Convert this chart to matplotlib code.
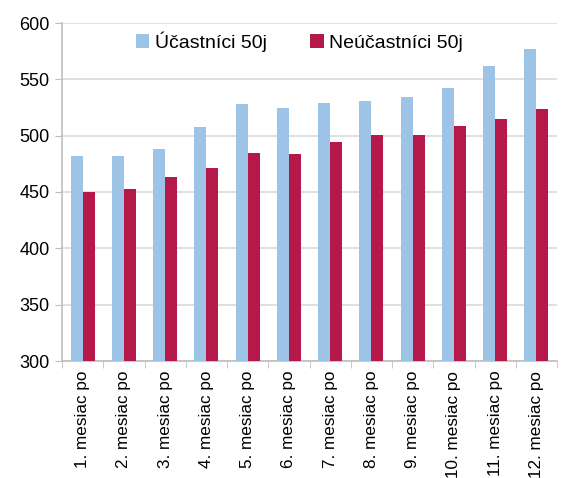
import matplotlib.pyplot as plt
import numpy as np

plt.rcParams['font.family'] = ['Liberation Sans', 'DejaVu Sans']

categories = [f"{i}. mesiac po" for i in range(1, 13)]
ucastnici = [482, 482, 488, 508, 528, 525, 529, 531, 534, 542, 562, 577]
neucastnici = [450, 453, 463, 471, 485, 484, 494, 501, 501, 509, 515, 524]

fig = plt.figure(figsize=(5.65, 4.78), dpi=100)
ax = fig.add_axes([62 / 565, 1 - 361 / 478, (557 - 62) / 565, (361 - 23) / 478])

x = np.arange(len(categories))
w = 0.29
ax.bar(x - w / 2, ucastnici, w, color='#9DC3E6', label='Účastníci 50j', zorder=3)
ax.bar(x + w / 2, neucastnici, w, color='#B5194A', label='Neúčastníci 50j', zorder=3)

ax.set_ylim(300, 600)
ax.set_xlim(-0.5, len(categories) - 0.5)
ax.set_yticks(range(300, 601, 50))
ax.yaxis.grid(True, color='#D9D9D9', linewidth=1.2, zorder=0)
ax.tick_params(axis='y', labelsize=13, length=5, color='#BFBFBF', pad=4)

ax.set_xticks(x)
ax.set_xticklabels(categories, rotation=90, fontsize=12.3)
ax.tick_params(axis='x', length=0, pad=7)
ax.set_xticks(np.arange(-0.5, len(categories)), minor=True)
ax.tick_params(axis='x', which='minor', length=5, color='#BFBFBF')

for s in ['top', 'right']:
    ax.spines[s].set_visible(False)
for s in ['left', 'bottom']:
    ax.spines[s].set_color('#BFBFBF')
    ax.spines[s].set_linewidth(1.2)

ax.legend(loc='upper center', bbox_to_anchor=(0.48, 1.01), ncol=2, frameon=False,
          fontsize=14, handlelength=0.7, handleheight=0.7, handletextpad=0.3,
          columnspacing=2.2, borderaxespad=0.2)

fig.savefig('out.png', dpi=100)
